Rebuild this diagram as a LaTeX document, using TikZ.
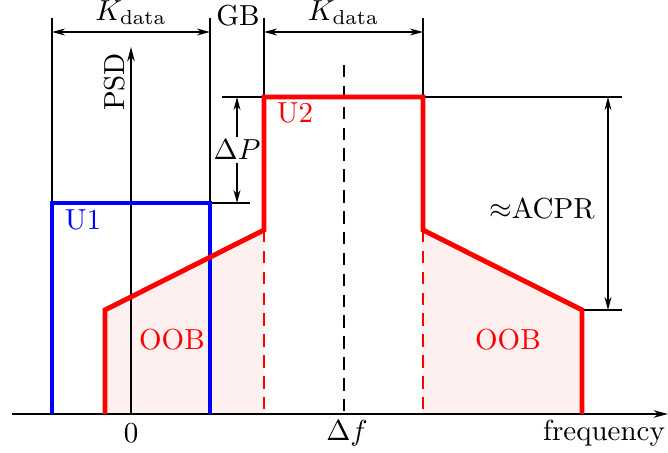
\documentclass[tikz,border=0pt]{standalone}
\usepackage{amsmath}
\usepackage{amssymb}
\usetikzlibrary{arrows.meta, positioning}

\begin{document}
\begin{tikzpicture}[
                    x=0.345pt, y=-0.345pt,
                    dimarrow/.style={{Stealth[length=4.5pt,width=2.4pt]}-{Stealth[length=4.5pt,width=2.4pt]}, thin},
                    guide/.style={thin},
                    axis/.style={-{Stealth[length=5pt,width=2.6pt]}, semithick},
                    psd/.style={line width=1.7pt},
                    oob/.style={fill=red!6, draw=none},
                    marker/.style={dash pattern=on 4.3pt off 2.9pt},
                    lbl/.style={inner sep=1pt}
                ]
                \useasboundingbox (0,0) rectangle (668,453);

                % band edges and levels
                \coordinate (u1a) at (52,414);  \coordinate (u1b) at (52,203);
                \coordinate (u1c) at (210,203); \coordinate (u1d) at (210,414);
                \coordinate (u2a) at (105,414); \coordinate (u2b) at (105,310);
                \coordinate (u2c) at (264,230); \coordinate (u2d) at (264,97);
                \coordinate (u2e) at (423,97);  \coordinate (u2f) at (423,230);
                \coordinate (u2g) at (582,310); \coordinate (u2h) at (582,414);
                \coordinate (u2cb) at (264,414); \coordinate (u2fb) at (423,414);

                % out-of-band shading
                \fill[oob] (u2a) -- (u2b) -- (u2c) -- (u2cb) -- cycle;
                \fill[oob] (u2fb) -- (u2f) -- (u2g) -- (u2h) -- cycle;

                % top dimensions
                \coordinate (e1) at (52,18);  \coordinate (e2) at (210,18);
                \coordinate (e3) at (264,18); \coordinate (e4) at (423,18);
                \draw[guide] (e1) -- (u1b);
                \draw[guide] (e2) -- (u1c);
                \draw[guide] (e3) -- (u2d);
                \draw[guide] (e4) -- (u2e);
                \coordinate (k1) at (52,32);  \coordinate (k2) at (210,32);
                \coordinate (k3) at (264,32); \coordinate (k4) at (423,32);
                \draw[dimarrow] (k1) -- node[above=-1pt] {$K_{\text{data}}$} (k2);
                \draw[dimarrow] (k3) -- node[above=-1pt] {$K_{\text{data}}$} (k4);
                \node[lbl] (gb) at (238,16) {GB};

                % level guides
                \coordinate (p1) at (222,97);  \coordinate (p2) at (622,97);
                \coordinate (p3) at (250,203); \coordinate (p4) at (622,310);
                \draw[guide] (p1) -- (u2d);
                \draw[guide] (u2e) -- (p2);
                \draw[guide] (u1c) -- (p3);
                \draw[guide] (u2g) -- (p4);
                \coordinate (dp1) at (237,97); \coordinate (dp2) at (237,203);
                \draw[dimarrow] (dp1) -- node[fill=white, inner sep=1pt] {$\Delta P$} (dp2);
                \coordinate (ac1) at (608,97); \coordinate (ac2) at (608,310);
                \draw[dimarrow] (ac1) -- (ac2);
                \node[lbl] (acpr) at (542,208) {$\approx$ACPR};

                % centre and band edge markers
                \coordinate (cf) at (344,65); \coordinate (cfb) at (344,414);
                \draw[marker, semithick] (cf) -- (cfb);
                \draw[marker, thin, red] (u2c) -- (u2cb);
                \draw[marker, thin, red] (u2f) -- (u2fb);

                % axes
                \coordinate (x0) at (12,414); \coordinate (x1) at (668,414);
                \coordinate (y0) at (131,414); \coordinate (y1) at (131,47);
                \draw[axis] (x0) -- (x1);
                \draw[axis] (y0) -- (y1);
                \node[rotate=90] (psd) at (115,82) {PSD};
                \node (zero) at (131,433) {0};
                \node (df) at (347,433) {$\Delta f$};
                \node (freq) at (604,433) {frequency};

                % spectra
                \draw[psd, blue] (u1a) -- (u1b) -- (u1c) -- (u1d);
                \draw[psd, red] (u2a) -- (u2b) -- (u2c) -- (u2d) -- (u2e) -- (u2f) -- (u2g) -- (u2h);
                \node[blue] (lu1) at (83,220) {U1};
                \node[red] (lu2) at (295,113) {U2};
                \node[red] (oobl) at (172,340) {OOB};
                \node[red] (oobr) at (508,340) {OOB};
                \end{tikzpicture}
\end{document}
